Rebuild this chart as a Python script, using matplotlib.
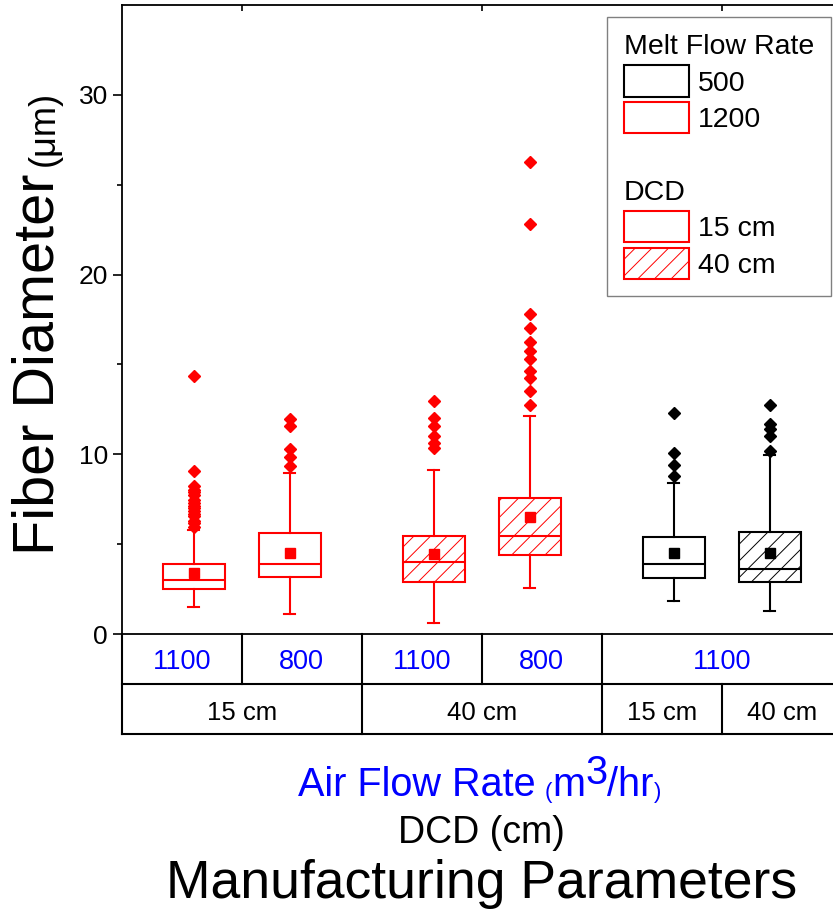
import matplotlib
matplotlib.use('Agg')
import matplotlib.pyplot as plt
from matplotlib.patches import Patch
from matplotlib.legend_handler import HandlerBase
from matplotlib.text import Text
from matplotlib.transforms import blended_transform_factory, IdentityTransform
import numpy as np

plt.rcParams['font.family'] = ['Liberation Sans', 'DejaVu Sans']
plt.rcParams['hatch.linewidth'] = 0.7

# ---------------- data ----------------
air_flow = ['1100', '800', '1100', '800', '1100', '1100']
dcd = ['15 cm', '15 cm', '40 cm', '40 cm', '15 cm', '40 cm']
melt_flow = [1200, 1200, 1200, 1200, 500, 500]
whislo = [1.53, 1.10, 0.60, 2.55, 1.84, 1.28]
q1 = [2.51, 3.16, 2.90, 4.39, 3.14, 2.92]
med = [2.99, 3.90, 3.98, 5.43, 3.90, 3.64]
q3 = [3.90, 5.63, 5.43, 7.55, 5.37, 5.69]
whishi = [5.80, 8.94, 9.11, 12.12, 8.40, 9.98]
means = [3.42, 4.48, 4.44, 6.51, 4.48, 4.48]
fliers = [
    [5.98, 6.17, 6.3, 6.54, 6.7, 6.82, 7.0, 7.10, 7.29, 7.45, 7.75, 7.9, 8.03, 8.25, 9.05, 14.35],
    [9.37, 9.83, 10.3, 11.6, 11.94],
    [10.36, 10.64, 11.0, 11.57, 12.03, 12.96],
    [12.77, 13.51, 14.26, 14.63, 15.28, 15.75, 16.25, 17.01, 17.79, 22.81, 26.25],
    [8.77, 9.39, 10.07, 12.31],
    [10.2, 11.0, 11.38, 11.66, 12.77],
]
yticks = [0, 10, 20, 30]
row1_labels = ['1100', '800', '1100', '800', '1100']
row1_edges = [0, 1, 2, 3, 4, 6]
row2_labels = ['15 cm', '40 cm', '15 cm', '40 cm']
row2_edges = [0, 2, 4, 5, 6]

mfr_color = {1200: '#ff0000', 500: '#000000'}
dcd_hatch = {'15 cm': None, '40 cm': '//'}
positions = [0.6, 1.4, 2.6, 3.4, 4.6, 5.4]

# ---------------- figure ----------------
W, H = 833, 919
fig = plt.figure(figsize=(W / 100, H / 100), dpi=100)
ax_left, ax_right, ax_top, ax_bot = 121.7, 841.7, 5, 634
ax = fig.add_axes([ax_left / W, (H - ax_bot) / H, (ax_right - ax_left) / W, (ax_bot - ax_top) / H])
ax_h = ax_bot - ax_top

for i in range(len(med)):
    c = mfr_color[melt_flow[i]]
    st = dict(med=med[i], q1=q1[i], q3=q3[i], whislo=whislo[i], whishi=whishi[i],
              mean=means[i], fliers=np.array(fliers[i]), label='')
    ax.bxp([st], positions=[positions[i]], widths=0.52, capwidths=0.09,
           patch_artist=True, showmeans=True, manage_ticks=False,
           boxprops=dict(facecolor='white', edgecolor=c, linewidth=1.5, hatch=dcd_hatch[dcd[i]]),
           whiskerprops=dict(color=c, linewidth=1.5),
           capprops=dict(color=c, linewidth=1.5),
           medianprops=dict(color=c, linewidth=1.5),
           meanprops=dict(marker='s', markerfacecolor=c, markeredgecolor=c, markersize=6.5),
           flierprops=dict(marker='D', markerfacecolor=c, markeredgecolor=c, markersize=6.3))

ax.set_xlim(0, 6)
ax.set_ylim(0, 35)
ax.set_yticks(yticks)
ax.set_yticks([5, 15, 25], minor=True)
ax.tick_params(axis='y', which='major', direction='out', length=6.5, width=1.2, labelsize=19, pad=3.5)
ax.tick_params(axis='y', which='minor', direction='out', length=3.5, width=1.2)
ax.set_xticks([1, 3, 5])
ax.xaxis.set_ticks_position('top')
ax.tick_params(axis='x', direction='in', length=4, width=1.2, labeltop=False, labelbottom=False)
for s in ['left', 'top', 'bottom']:
    ax.spines[s].set_linewidth(1.3)
ax.spines['right'].set_visible(False)

# ---------------- table below axis ----------------
tr = blended_transform_factory(ax.transData, ax.transAxes)
r1 = -50 / ax_h
r2 = -100 / ax_h
lk = dict(color='black', linewidth=1.5, transform=tr, clip_on=False)
ax.plot([0, 6], [r1, r1], **lk)
ax.plot([0, 6], [r2, r2], **lk)
ax.plot([0, 0], [0, r2], **lk)
for e in row1_edges[1:-1]:
    ax.plot([e, e], [0, r1], **lk)
for e in row2_edges[1:-1]:
    ax.plot([e, e], [r1, r2], **lk)
for lab, a, b in zip(row1_labels, row1_edges[:-1], row1_edges[1:]):
    ax.text((a + b) / 2, -35 / ax_h, lab, transform=tr, ha='center', va='baseline',
            fontsize=19.5, color='#0000ff', clip_on=False)
for lab, a, b in zip(row2_labels, row2_edges[:-1], row2_edges[1:]):
    ax.text((a + b) / 2, -86 / ax_h, lab, transform=tr, ha='center', va='baseline',
            fontsize=18.5, color='black', clip_on=False)

# ---------------- legend ----------------
class Header:
    def __init__(self, text):
        self.text = text

class HeaderHandler(HandlerBase):
    def legend_artist(self, legend, orig_handle, fontsize, handlebox):
        t = Text(0, 0, orig_handle.text, fontsize=fontsize, ha='left', va='baseline',
                 fontfamily=['Liberation Sans', 'DejaVu Sans'])
        handlebox.add_artist(t)
        return t

handles = [Patch(facecolor='white', edgecolor='black', linewidth=1.5),
           Patch(facecolor='white', edgecolor='#ff0000', linewidth=1.5),
           Header(''), Header('DCD'),
           Patch(facecolor='white', edgecolor='#ff0000', linewidth=1.5),
           Patch(facecolor='white', edgecolor='#ff0000', linewidth=1.5, hatch='//')]
labels = ['500', '1200', '', '', '15 cm', '40 cm']
leg = ax.legend(handles, labels, title='Melt Flow Rate', title_fontsize=20.5, fontsize=20.5,
                loc='upper right', bbox_to_anchor=(831 / W, 1 - 17 / H),
                bbox_transform=fig.transFigure, borderaxespad=0, alignment='left',
                handlelength=2.3, handleheight=1.3, labelspacing=0.19, handletextpad=0.3,
                borderpad=0.6, fancybox=False, framealpha=1, edgecolor='#808080',
                handler_map={Header: HeaderHandler()})
leg.get_frame().set_linewidth(1.0)

# ---------------- composite labels ----------------
renderer = fig.canvas.get_renderer()
ident = IdentityTransform()

def row_of_pieces(pieces, cx, base_y):
    objs = []
    total = 0
    for s, size, color, dy, gap in pieces:
        t = fig.text(0, 0, s, fontsize=size, color=color, ha='left', va='baseline', transform=ident)
        w = t.get_window_extent(renderer).width
        objs.append((t, w, dy, gap))
        total += w + gap
    x = cx - total / 2
    for t, w, dy, gap in objs:
        t.set_position((x, H - base_y + dy))
        x += w + gap

blue = '#0000ff'
cx = (ax_left + ax_right) / 2
row_of_pieces([('Air Flow Rate', 28.5, blue, 0, 9), ('(', 16, blue, -2, 0), ('m', 28.5, blue, 0, 0),
               ('3', 28.5, blue, 12, 0), ('/hr', 28.5, blue, 0, 0), (')', 16, blue, -2, 0)], cx - 2, 796)
row_of_pieces([('DCD (cm)', 27, 'black', 0, 0)], cx, 843)
row_of_pieces([('Manufacturing Parameters', 38.5, 'black', 0, 0)], cx, 898)

# rotated y label
yl1 = fig.text(54, H - 555, 'Fiber Diameter', fontsize=41.5, rotation=90, rotation_mode='anchor',
               ha='left', va='baseline', transform=ident)
L1 = yl1.get_window_extent(renderer).height
fig.text(54, H - 555 + L1 + 8, '(μm)', fontsize=26, rotation=90, rotation_mode='anchor',
         ha='left', va='baseline', transform=ident)

fig.savefig('out.png', dpi=100)
